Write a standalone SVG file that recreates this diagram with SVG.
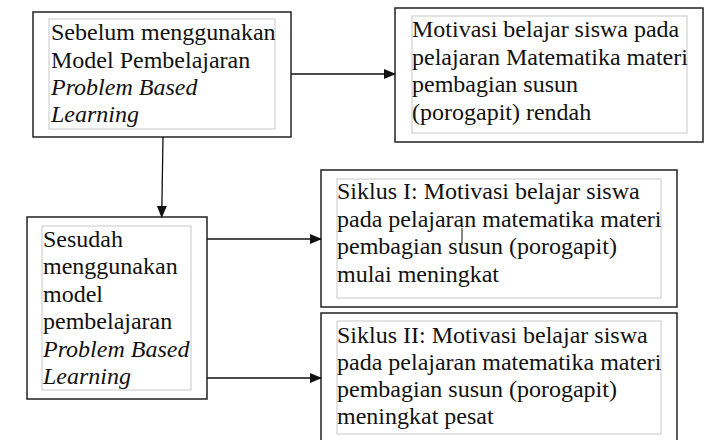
<svg xmlns="http://www.w3.org/2000/svg" width="720" height="440" viewBox="0 0 720 440">
<style>
.outer{fill:#fff;stroke:#222;stroke-width:1.5}
.inner{fill:none;stroke:#c8c8c8;stroke-width:1}
.t{font-family:"Liberation Serif","Times New Roman",serif;font-size:24px;fill:#111}
.it{font-style:italic}
.conn{stroke:#111;stroke-width:1.3;fill:none;marker-end:url(#ah)}
</style>
<defs>
<marker id="ah" markerWidth="12" markerHeight="10" refX="11" refY="5" orient="auto" markerUnits="userSpaceOnUse">
<path d="M0,0 L12,5 L0,10 Z" fill="#111"/>
</marker>
</defs>
<rect width="720" height="440" fill="#fff"/>
<g id="n1">
<rect class="outer" x="33" y="12" width="258" height="125"/>
<rect class="inner" x="49" y="19" width="226" height="110"/>
<text class="t" x="51" y="40">Sebelum menggunakan</text>
<text class="t" x="51" y="68">Model Pembelajaran</text>
<text class="t it" x="51" y="95">Problem Based</text>
<text class="t it" x="51" y="122">Learning</text>
</g>
<g id="n2">
<rect class="outer" x="395" y="8" width="308" height="134"/>
<rect class="inner" x="412" y="16" width="275" height="117"/>
<text class="t" x="412" y="37">Motivasi belajar siswa pada</text>
<text class="t" x="412" y="65">pelajaran Matematika materi</text>
<text class="t" x="412" y="92">pembagian susun</text>
<text class="t" x="412" y="120">(porogapit) rendah</text>
</g>
<g id="n3">
<rect class="outer" x="27" y="217" width="180" height="182"/>
<rect class="inner" x="42" y="226" width="149" height="164"/>
<text class="t" x="43" y="247">Sesudah</text>
<text class="t" x="43" y="274">menggunakan</text>
<text class="t" x="43" y="302">model</text>
<text class="t" x="43" y="329">pembelajaran</text>
<text class="t it" x="43" y="357">Problem Based</text>
<text class="t it" x="43" y="384">Learning</text>
</g>
<g id="n4">
<rect class="outer" x="321" y="170" width="356" height="137"/>
<rect class="inner" x="337" y="179" width="324" height="119"/>
<text class="t" x="337" y="199">Siklus I: Motivasi belajar siswa</text>
<text class="t" x="337" y="227">pada pelajaran matematika materi</text>
<text class="t" x="337" y="254">pembagian susun (porogapit)</text>
<text class="t" x="337" y="282">mulai meningkat</text>
</g>
<g id="n5">
<rect class="outer" x="321" y="313" width="356" height="140"/>
<rect class="inner" x="337" y="321" width="324" height="113"/>
<text class="t" x="337" y="343">Siklus II: Motivasi belajar siswa</text>
<text class="t" x="337" y="370">pada pelajaran matematika materi</text>
<text class="t" x="337" y="397">pembagian susun (porogapit)</text>
<text class="t" x="337" y="424">meningkat pesat</text>
</g>
<g id="connectors">
<line class="conn" x1="291" y1="74" x2="395" y2="74"/>
<line class="conn" x1="163" y1="137" x2="161.7" y2="217"/>
<line class="conn" x1="207" y1="239" x2="321" y2="239"/>
<line class="conn" x1="207" y1="378" x2="321" y2="378"/>
<line x1="462" y1="228" x2="462" y2="245" stroke="#111" stroke-width="1"/>
</g>
</svg>
